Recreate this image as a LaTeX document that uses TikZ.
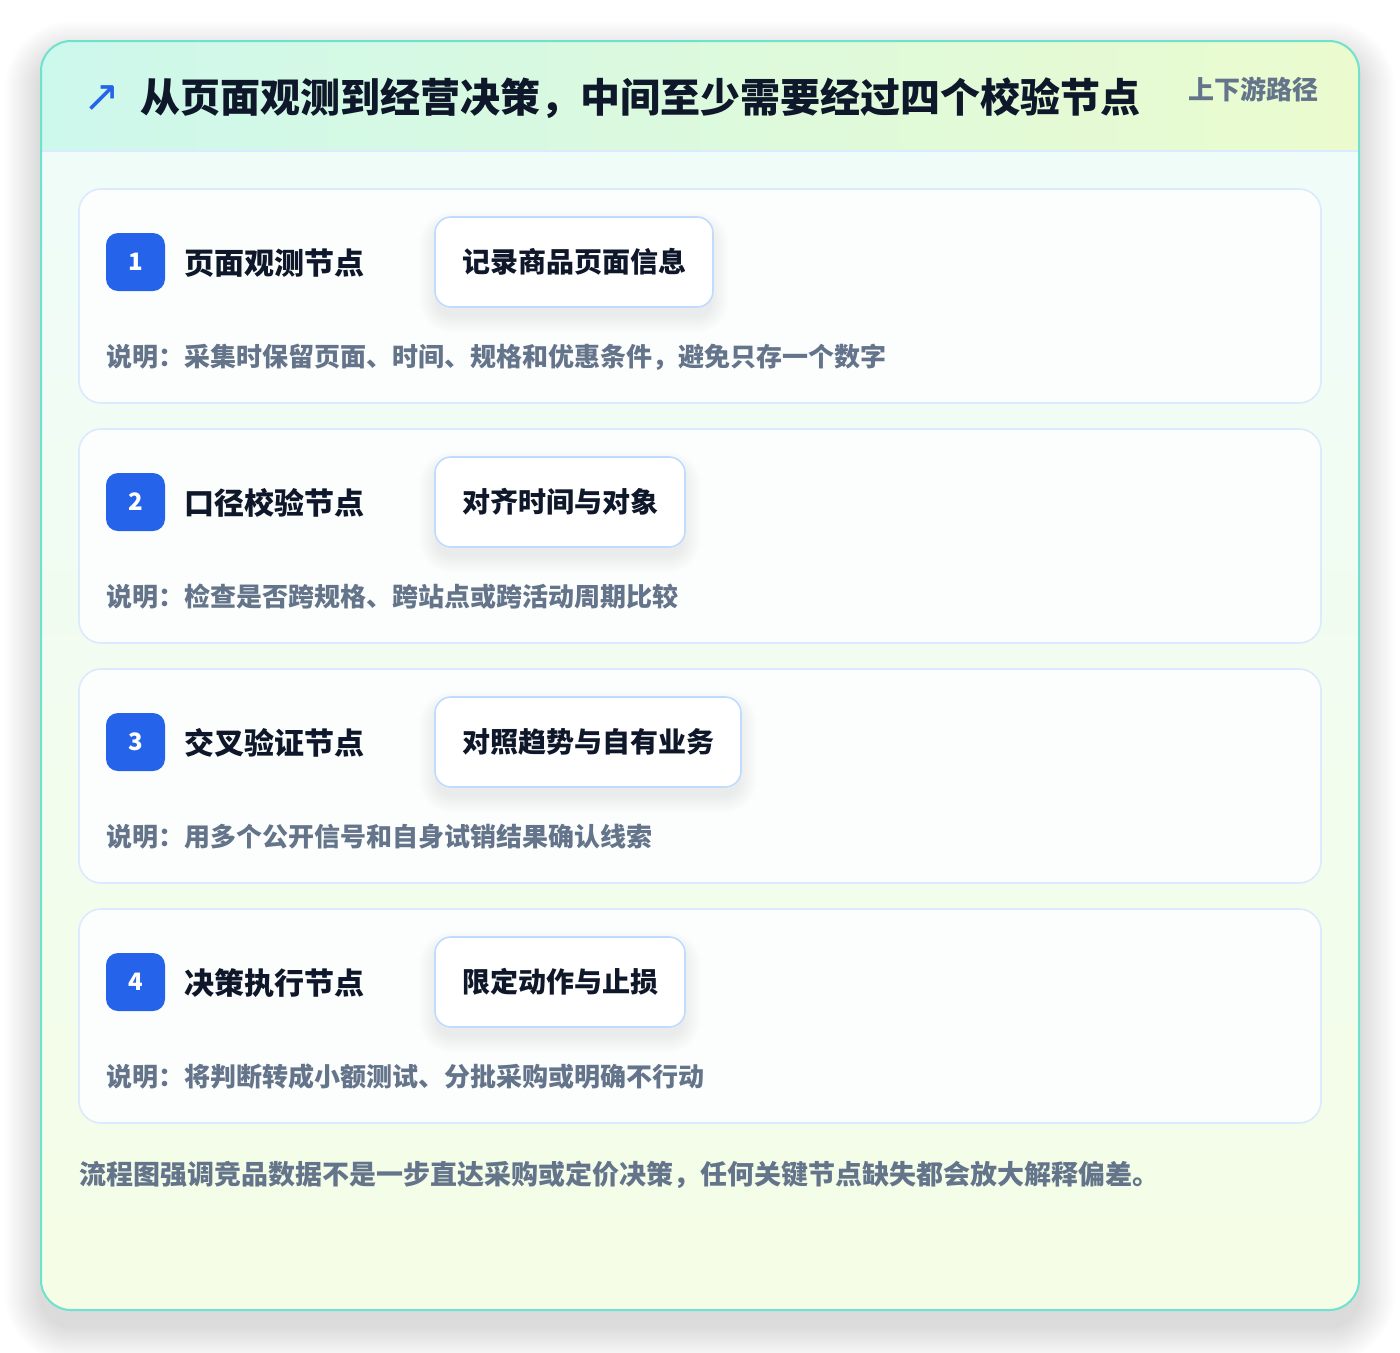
\documentclass[tikz,border=0pt]{standalone}
\usepackage{fontspec}
\setmainfont{Noto Sans CJK SC}
\newfontfamily\symfont{DejaVu Sans}
\definecolor{outerB}{HTML}{6EE2CF}
\definecolor{hdrL}{HTML}{CDF8EC}
\definecolor{hdrR}{HTML}{EBFBCE}
\definecolor{bodyT}{HTML}{EFFCF8}
\definecolor{bodyB}{HTML}{F5FDE6}
\definecolor{lineB}{HTML}{DBEAFE}
\definecolor{pillB}{HTML}{BFDBFE}
\definecolor{badgeC}{HTML}{2563EB}
\definecolor{inkC}{HTML}{0F172A}
\definecolor{grayC}{HTML}{64748B}
\definecolor{cardF}{HTML}{FCFEFD}
% soft shadow: x1,y1,x2,y2,radius,steps,opacity,yoffset
\newcommand\mkshadow[8]{%
  \foreach \kk in {1,...,#6}{%
    \pgfmathsetmacro{\rr}{#5+\kk}%
    \fill[black, opacity=#7, rounded corners=\rr pt]
      ({#1-\kk},{#2-\kk+#8}) rectangle ({#3+\kk},{#4+\kk+#8});
  }%
}
\tikzset{
  cardbox/.style={draw=lineB, line width=1.6pt, fill=cardF, rounded corners=22pt,
    minimum width=1242pt, minimum height=214pt, inner sep=0pt, outer sep=0pt},
  badgebox/.style={fill=badgeC, rounded corners=12pt, minimum width=59pt, minimum height=58pt,
    inner sep=0pt, outer sep=0pt, text=white, font=\bfseries\fontsize{24pt}{26pt}\selectfont},
  steptitle/.style={anchor=west, inner sep=0pt, text=inkC, font=\bfseries\fontsize{30pt}{36pt}\selectfont},
  pillbox/.style={anchor=west, draw=pillB, line width=1.6pt, fill=white, rounded corners=16pt,
    minimum height=90pt, inner xsep=27pt, inner ysep=0pt, outer sep=0pt, text=inkC,
    font=\bfseries\fontsize{28pt}{34pt}\selectfont},
  desctext/.style={anchor=west, inner sep=0pt, text=grayC, font=\bfseries\fontsize{26pt}{30pt}\selectfont},
}
\begin{document}
\begin{tikzpicture}[x=1pt,y=-1pt]
\useasboundingbox (0,0) rectangle (1400,1352);
\fill[white] (0,0) rectangle (1400,1352);
% outer card soft shadow
\mkshadow{41}{41}{1359}{1310}{30}{36}{0.0024}{16}
\begin{scope}
  \clip[rounded corners=30pt] (41,41) rectangle (1359,1310);
  \fill[white] (41,41) rectangle (1359,1310);
  \shade[top color=bodyT, bottom color=bodyB] (41,151) rectangle (1359,1310);
  \shade[left color=hdrL, right color=hdrR] (41,41) rectangle (1359,151);
  \draw[lineB, line width=1.6pt] (41,151) -- (1359,151);
\end{scope}
\draw[outerB, line width=2pt, rounded corners=30pt] (41,41) rectangle (1359,1310);
% header
\node[inner sep=0pt, text=badgeC, font=\symfont\fontsize{44pt}{48pt}\selectfont] (arrowicon) at (102,99) {↗};
\node[anchor=west, inner sep=0pt, text=inkC, font=\bfseries\fontsize{40pt}{48pt}\selectfont] (title) at (140,98)
  {从页面观测到经营决策，中间至少需要经过四个校验节点};
\node[anchor=west, inner sep=0pt, text=grayC, font=\bfseries\fontsize{26pt}{30pt}\selectfont] (tag) at (1188,89) {上下游路径};
% cards
\foreach \i/\t/\p/\w/\d in {
  1/页面观测节点/记录商品页面信息/713/说明：采集时保留页面、时间、规格和优惠条件，避免只存一个数字,
  2/口径校验节点/对齐时间与对象/685/说明：检查是否跨规格、跨站点或跨活动周期比较,
  3/交叉验证节点/对照趋势与自有业务/741/说明：用多个公开信号和自身试销结果确认线索,
  4/决策执行节点/限定动作与止损/685/说明：将判断转成小额测试、分批采购或明确不行动}{
  \pgfmathsetmacro{\yz}{189+240*(\i-1)}
  \node[cardbox] (card\i) at (700,\yz+107) {};
  \node[badgebox] (badge\i) at (135.5,\yz+73) {\i};
  \node[steptitle] (name\i) at (184,\yz+74) {\t};
  \mkshadow{437}{\yz+30}{\w-2}{\yz+116}{14}{18}{0.0045}{10}
  \node[pillbox] (pill\i) at (435,\yz+73) {\p};
  \node[desctext] (desc\i) at (106,\yz+168) {\d};
}
% footer
\node[anchor=west, inner sep=0pt, text=grayC, font=\bfseries\fontsize{27pt}{32pt}\selectfont] (footer) at (79,1175)
  {流程图强调竞品数据不是一步直达采购或定价决策，任何关键节点缺失都会放大解释偏差。};
\end{tikzpicture}
\end{document}
